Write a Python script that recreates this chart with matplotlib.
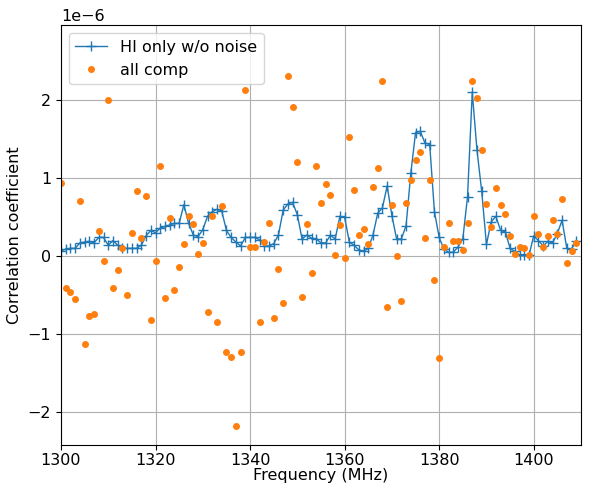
import matplotlib
matplotlib.use('Agg')
import matplotlib.pyplot as plt
import numpy as np

plt.rcParams['font.size'] = 11.5

# frequency channels (MHz), 1 MHz steps
freq = np.arange(1300, 1410)

# correlation coefficient, HI only without noise (units of 1e-6)
hi_only = [0.07, 0.09, 0.10, 0.10, 0.17, 0.18, 0.19, 0.17, 0.24, 0.24,
           0.14, 0.20, 0.14, 0.10, 0.10, 0.10, 0.10, 0.14, 0.26, 0.33,
           0.30, 0.36, 0.38, 0.40, 0.42, 0.42, 0.66, 0.42, 0.27, 0.25,
           0.34, 0.51, 0.57, 0.60, 0.58, 0.33, 0.24, 0.18, 0.13, 0.24,
           0.24, 0.24, 0.21, 0.13, 0.13, 0.16, 0.27, 0.59, 0.67, 0.69,
           0.53, 0.22, 0.27, 0.23, 0.22, 0.17, 0.17, 0.27, 0.22, 0.51,
           0.50, 0.18, 0.14, 0.08, 0.06, 0.10, 0.27, 0.55, 0.62, 0.90,
           0.52, 0.22, 0.22, 0.39, 1.06, 1.58, 1.60, 1.45, 1.43, 0.57,
           0.24, 0.09, 0.05, 0.05, 0.12, 0.22, 0.76, 2.10, 1.36, 0.83,
           0.15, 0.44, 0.51, 0.33, 0.31, 0.10, 0.06, 0.02, 0.02, 0.01,
           0.26, 0.20, 0.13, 0.19, 0.17, 0.29, 0.46, 0.10, 0.09, 0.20]

# correlation coefficient, all components (units of 1e-6)
all_comp = [0.94, -0.41, -0.46, -0.55, 0.71, -1.12, -0.77, -0.74, 0.32, -0.06,
            2.00, -0.41, -0.18, 0.10, -0.50, 0.30, 0.84, 0.23, 0.77, -0.82,
            -0.06, 1.15, -0.53, 0.49, -0.43, -0.14, 0.15, 0.51, 0.41, 0.03,
            0.17, -0.72, 0.52, -0.85, 0.64, -1.23, -1.29, -2.18, -1.23, 2.13,
            0.12, 0.12, -0.84, 0.18, 0.43, -0.79, -0.16, -0.60, 2.31, 1.91,
            1.21, -0.52, 0.41, -0.22, 1.15, 0.68, 0.93, 0.79, 0.01, 0.40,
            -0.03, 1.53, 0.85, 0.27, 0.35, 0.15, 0.89, 1.13, 2.25, -0.65,
            0.66, 0.00, -0.58, 0.68, 0.97, 1.23, 1.33, 0.23, 0.97, -0.30,
            -1.31, 0.12, 0.42, 0.20, 0.20, 0.08, 0.43, 2.24, 2.03, 1.36,
            0.67, 0.37, 0.87, 0.65, 0.54, 0.26, 0.03, 0.12, 0.10, 0.02,
            0.51, 0.29, 0.12, 0.26, 0.46, 0.28, 0.73, -0.09, 0.07, 0.17]

hi_only = np.array(hi_only) * 1e-6
all_comp = np.array(all_comp) * 1e-6

fig = plt.figure(figsize=(5.96, 4.84), dpi=100)
ax = fig.add_axes([0.1023, 0.0806, 0.8725, 0.8674])

ax.plot(freq, hi_only, '-+', color='#1f77b4', lw=1, ms=7, label='HI only w/o noise')
ax.plot(freq, all_comp, 'o', color='#ff7f0e', ms=4, label='all comp')

ax.set_xlim(1300, 1410)
ax.set_ylim(-2.42e-6, 2.96e-6)
ax.grid(True)
ax.tick_params(axis='x', pad=2)
ax.set_xlabel('Frequency (MHz)', labelpad=0)
ax.set_ylabel('Correlation coefficient')
ax.legend(loc='upper left')

fig.savefig('out.png', dpi=100)
